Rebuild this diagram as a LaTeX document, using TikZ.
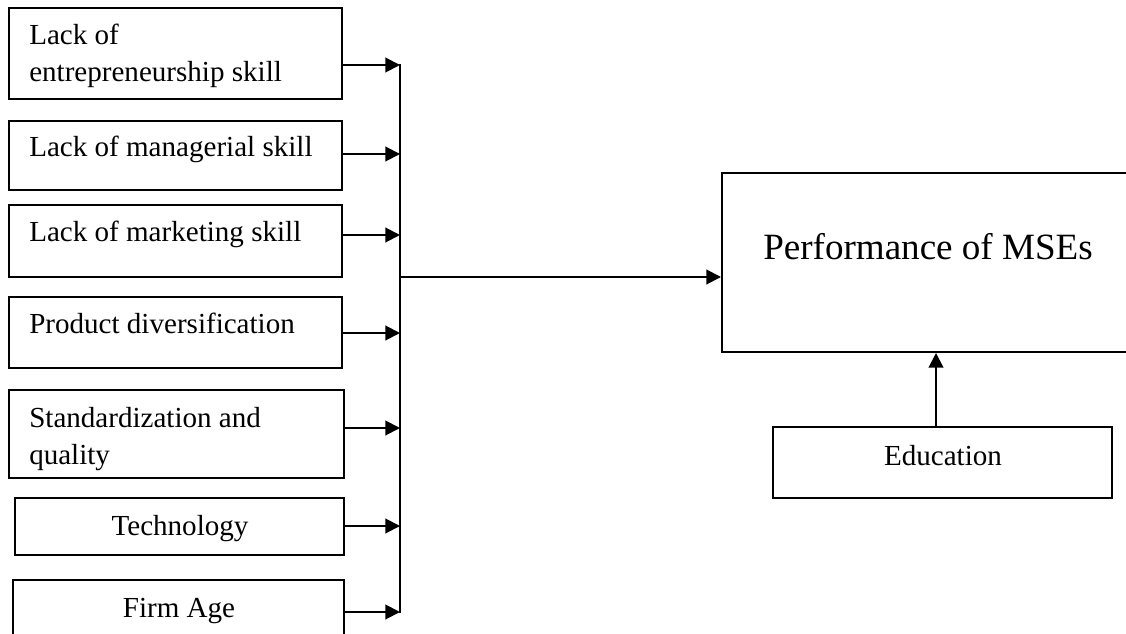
\documentclass[tikz,border=0pt]{standalone}
\usepackage{fontspec}
\setmainfont{Liberation Serif}
\usetikzlibrary{arrows.meta,fit}
\tikzset{
  box/.style={draw=black, line width=1.5pt, inner sep=0pt, fill=none},
  arr/.style={draw=black, line width=1.5pt, -{Triangle[length=11pt,width=11pt]}},
  spine/.style={draw=black, line width=1.5pt},
  lbl/.style={inner sep=0pt, font=\fontsize{21.8}{27.75}\selectfont},
  big/.style={inner sep=0pt, font=\fontsize{27.8}{33}\selectfont}
}
\begin{document}
\begin{tikzpicture}[x=0.75pt,y=-0.75pt]
\useasboundingbox (0,0) rectangle (1126,634);
\clip (0,0) rectangle (1126,634);
\fill[white] (0,0) rectangle (1126,634);
% left boxes
\node[box, fit={(9,8) (342,99)}] (b1) {};
\node[box, fit={(9,121) (342,190)}] (b2) {};
\node[box, fit={(9,205) (342,277)}] (b3) {};
\node[box, fit={(9,297) (342,368)}] (b4) {};
\node[box, fit={(9,390) (344,478)}] (b5) {};
\node[box, fit={(15,498) (344,555)}] (b6) {};
\node[box, fit={(13,580) (344,670)}] (b7) {};
% right boxes
\node[box, fit={(722,173) (1150,352)}] (main) {};
\node[box, fit={(773,427) (1112,498)}] (edu) {};
% texts
\node[lbl, anchor=base west] (t1) at (29,45) {\begin{tabular}[t]{@{}l@{}}Lack of\\entrepreneurship skill\end{tabular}};
\node[lbl, anchor=base west] (t2) at (29,157) {Lack of managerial skill};
\node[lbl, anchor=base west] (t3) at (29,242) {Lack of marketing skill};
\node[lbl, anchor=base west] (t4) at (29,333) {Product diversification};
\node[lbl, anchor=base west] (t5) at (29,427) {\begin{tabular}[t]{@{}l@{}}Standardization and\\quality\end{tabular}};
\node[lbl, anchor=base] (t6) at (180,535) {Technology};
\node[lbl, anchor=base] (t7) at (179,617) {Firm Age};
\node[big, anchor=base] (tm) at (928,260) {Performance of MSEs};
\node[lbl, anchor=base] (te) at (943,465) {Education};
% spine coordinates
\coordinate (s1) at (400,65);
\coordinate (s2) at (400,154);
\coordinate (s3) at (400,235);
\coordinate (s4) at (400,333);
\coordinate (s5) at (400,428);
\coordinate (s6) at (400,526);
\coordinate (s7) at (400,612);
\coordinate (sm) at (400,277);
\coordinate (ex) at (936,400);
% connectors
\draw[arr] (b1.east |- s1) -- (s1);
\draw[arr] (b2.east |- s2) -- (s2);
\draw[arr] (b3.east |- s3) -- (s3);
\draw[arr] (b4.east |- s4) -- (s4);
\draw[arr] (b5.east |- s5) -- (s5);
\draw[arr] (b6.east |- s6) -- (s6);
\draw[arr] (b7.east |- s7) -- (s7);
\draw[spine] ([yshift=0.75pt]s1) -- ([yshift=-0.75pt]s7);
\draw[arr] (sm) -- (main.west |- sm);
\draw[arr] (edu.north -| ex) -- (main.south -| ex);
\end{tikzpicture}
\end{document}
